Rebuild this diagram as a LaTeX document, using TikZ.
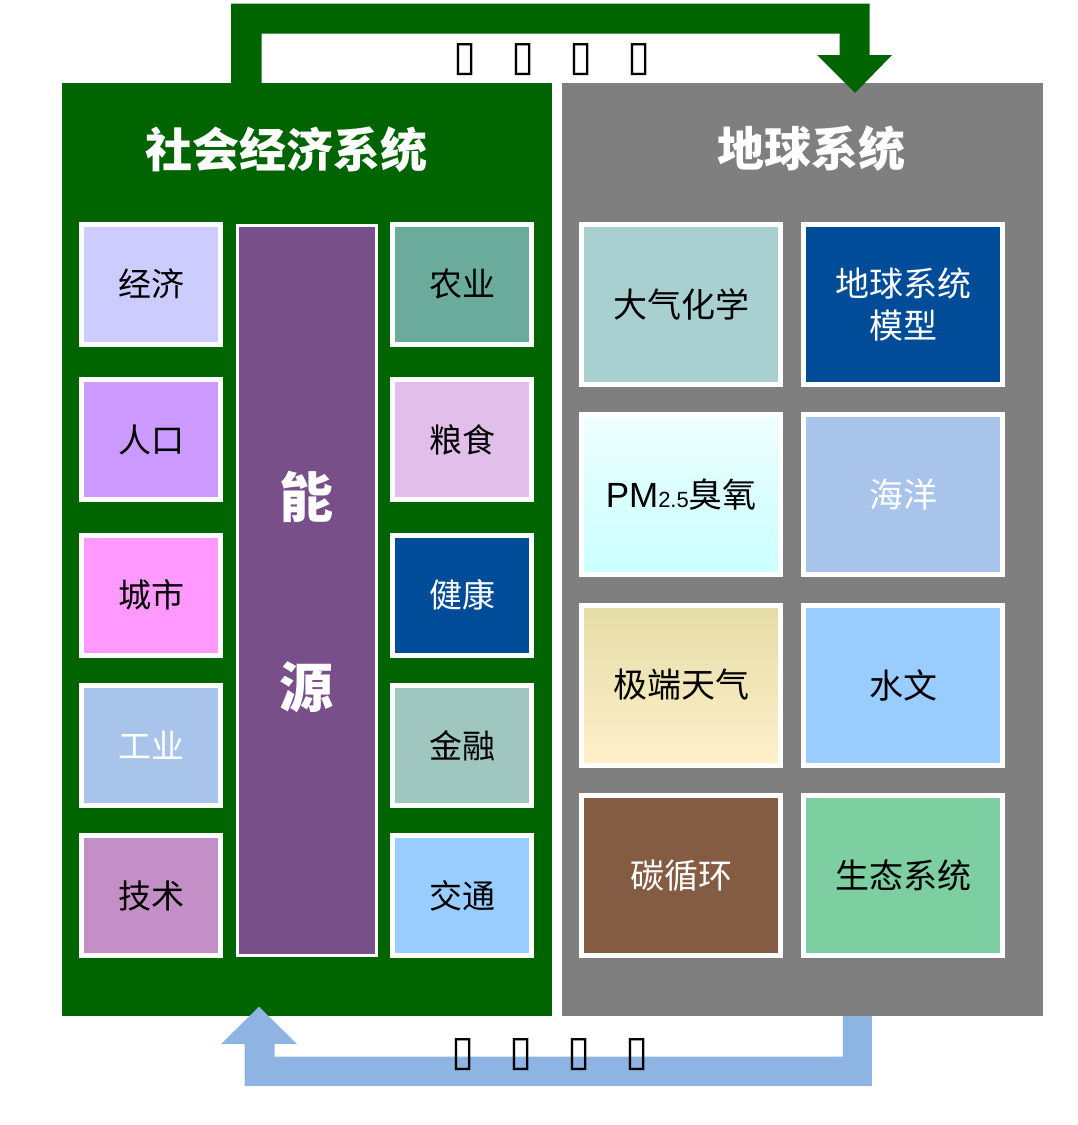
\documentclass[tikz,border=0pt]{standalone}
\usepackage{fontspec}
\setmainfont{Noto Sans CJK SC}
\newfontfamily\lat{Liberation Sans}
\newfontfamily\symf{DejaVu Sans}
\usetikzlibrary{shapes.geometric}
\definecolor{sgreen}{RGB}{0,100,0}
\definecolor{sgray}{RGB}{127,127,127}
\definecolor{abl}{RGB}{142,180,227}
\definecolor{cJingji}{RGB}{204,204,255}
\definecolor{cRenkou}{RGB}{204,153,255}
\definecolor{cChengshi}{RGB}{255,153,255}
\definecolor{cGongye}{RGB}{169,196,235}
\definecolor{cJishu}{RGB}{196,142,198}
\definecolor{cNongye}{RGB}{106,171,156}
\definecolor{cLiangshi}{RGB}{225,191,234}
\definecolor{cJiankang}{RGB}{0,76,153}
\definecolor{cJinrong}{RGB}{159,198,191}
\definecolor{cJiaotong}{RGB}{153,204,255}
\definecolor{cNengyuan}{RGB}{121,79,138}
\definecolor{cDaqi}{RGB}{168,208,208}
\definecolor{cHaiyang}{RGB}{169,196,235}
\definecolor{cShuiwen}{RGB}{153,204,255}
\definecolor{cTan}{RGB}{132,92,67}
\definecolor{cSheng}{RGB}{125,206,160}
\definecolor{pmTop}{RGB}{240,255,255}
\definecolor{pmBot}{RGB}{204,255,255}
\definecolor{jdTop}{RGB}{228,220,166}
\definecolor{jdBot}{RGB}{255,240,203}
\tikzset{
  lbox/.style={draw=white, line width=5pt, inner sep=0pt, outer sep=0pt,
    minimum width=139pt, minimum height=120pt, font=\fontsize{33}{40}\selectfont},
  rbox/.style={draw=white, line width=5pt, inner sep=0pt, outer sep=0pt,
    minimum width=199pt, minimum height=160pt, font=\fontsize{34}{42}\selectfont, align=center},
  title/.style={text=white, font=\fontsize{47}{56}\selectfont\bfseries},
  tofu/.style={font=\symf\fontsize{42}{48}\selectfont}
}
\newcommand{\tf}{\makebox[58pt]{▯}}
\begin{document}
\begin{tikzpicture}[x=1pt,y=-1pt]
\useasboundingbox (0,0) rectangle (1077,1125);
% panels
\node[fill=sgreen, inner sep=0pt, outer sep=0pt, minimum width=490pt, minimum height=933pt] (soc) at (307,549.5) {};
\node[fill=sgray, inner sep=0pt, outer sep=0pt, minimum width=481pt, minimum height=933pt] (earth) at (802.5,549.5) {};
% top arrow
\fill[sgreen] (231,84) -- (231,3.5) -- (869.5,3.5) -- (869.5,55) -- (892,55) -- (855,93) -- (817,55) -- (839.5,55) -- (839.5,33.5) -- (261.5,33.5) -- (261.5,84) -- cycle;
% bottom arrow
\fill[abl] (842.8,1016) -- (871.8,1016) -- (871.8,1086) -- (244.5,1086) -- (244.5,1044) -- (221,1044) -- (259,1006.7) -- (297,1044) -- (274.5,1044) -- (274.5,1056.7) -- (842.8,1056.7) -- cycle;
\node[tofu] (lbtop) at (552,60) {\tf\tf\tf\tf};
\node[tofu] (lbbot) at (550,1055) {\tf\tf\tf\tf};
% titles
\node[title] (t1) at (286,150) {社会经济系统};
\node[title] (t2) at (811,149) {地球系统};
% left column
\node[lbox, fill=cJingji] (jingji) at (151.3,284.2) {经济};
\node[lbox, fill=cRenkou] (renkou) at (151.3,439.8) {人口};
\node[lbox, fill=cChengshi] (chengshi) at (151.3,595) {城市};
\node[lbox, fill=cGongye, text=white] (gongye) at (151.3,745.5) {工业};
\node[lbox, fill=cJishu] (jishu) at (151.3,895.8) {技术};
% right column of left panel
\node[lbox, fill=cNongye] (nongye) at (462.2,284.2) {农业};
\node[lbox, fill=cLiangshi] (liangshi) at (462.2,439.8) {粮食};
\node[lbox, fill=cJiankang, text=white] (jiankang) at (462.2,595) {健康};
\node[lbox, fill=cJinrong] (jinrong) at (462.2,745.5) {金融};
\node[lbox, fill=cJiaotong] (jiaotong) at (462.2,895.8) {交通};
% energy bar
\node[draw=white, line width=3pt, fill=cNengyuan, inner sep=0pt, outer sep=0pt,
  minimum width=139pt, minimum height=730pt] (nengyuan) at (306.7,590) {};
\node[text=white, font=\fontsize{54}{190}\selectfont\bfseries, align=center] (nytext) at (306.7,592) {能\\源};
% earth system boxes
\node[rbox, fill=cDaqi] (daqi) at (681.3,304.2) {大气化学};
\node[rbox, fill=cJiankang, text=white] (model) at (903,304.2) {地球系统\\模型};
\node[rbox, top color=pmTop, bottom color=pmBot, middle color=pmBot!60!pmTop] (pm) at (681.3,494.5) {{\lat\fontsize{35}{42}\selectfont PM\fontsize{22}{26}\selectfont 2.5}臭氧};
\node[rbox, fill=cHaiyang, text=white] (haiyang) at (903,494.5) {海洋};
\node[rbox, top color=jdTop, bottom color=jdBot] (jiduan) at (681.3,685) {极端天气};
\node[rbox, fill=cShuiwen] (shuiwen) at (903,685) {水文};
\node[rbox, fill=cTan, text=white] (tan) at (681.3,875.8) {碳循环};
\node[rbox, fill=cSheng] (sheng) at (903,875.8) {生态系统};
\end{tikzpicture}
\end{document}
